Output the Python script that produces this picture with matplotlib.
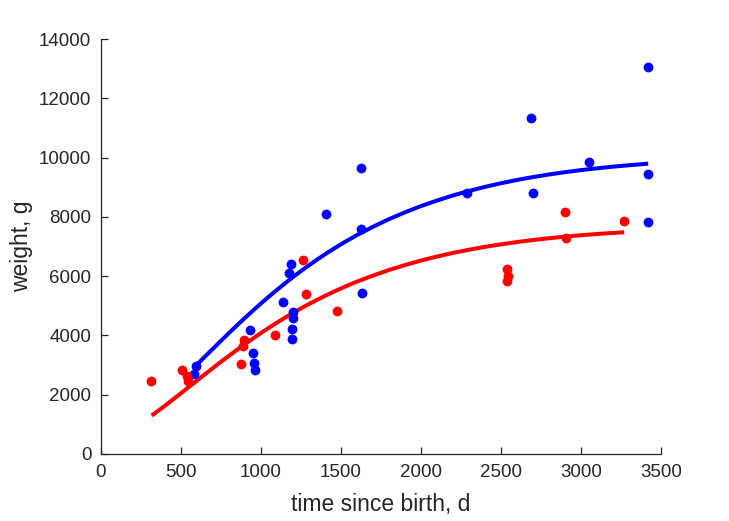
import matplotlib
matplotlib.use("Agg")
import matplotlib.pyplot as plt

plt.rcParams['font.family'] = ['Liberation Sans', 'DejaVu Sans']

# Observations (time since birth in days, weight in g)
blue_t = [592, 583, 931, 952, 958, 960, 1137, 1185, 1177, 1200, 1202, 1194, 1194,
          1623, 1408, 1625, 1633, 3421, 2689, 3052, 3421, 2289, 2698, 3421]
blue_w = [2952, 2695, 4183, 3392, 3054, 2830, 5140, 6425, 6121, 4792, 4576, 4227, 3889,
          9638, 8093, 7575, 5445, 13065, 11329, 9864, 9446, 8816, 8816, 7823]

red_t = [310, 504, 539, 546, 894, 886, 877, 1087, 1265, 1283, 1477,
         2900, 3271, 2908, 2535, 2542, 2535]
red_w = [2458, 2818, 2615, 2446, 3855, 3629, 3044, 4024, 6561, 5411, 4836,
         8161, 7846, 7282, 6256, 5997, 5851]

# Fitted growth curves
blue_fit_t = [590, 650, 700, 750, 800, 850, 900, 950, 1000, 1050, 1100, 1150, 1200,
              1250, 1300, 1350, 1400, 1450, 1500, 1550, 1600, 1700, 1800, 1900, 2000,
              2100, 2200, 2300, 2400, 2500, 2600, 2700, 2800, 2900, 3000, 3100, 3200,
              3300, 3420]
blue_fit_w = [2962, 3289, 3554, 3820, 4082, 4340, 4593, 4839, 5079, 5312, 5539, 5757, 5968,
              6172, 6368, 6556, 6736, 6909, 7076, 7233, 7385, 7665, 7923, 8153, 8364,
              8550, 8723, 8874, 9012, 9134, 9245, 9342, 9430, 9507, 9577, 9638, 9693,
              9741, 9795]

red_fit_t = [317, 400, 450, 500, 550, 600, 650, 700, 750, 800, 850, 900, 950, 1000,
             1050, 1100, 1150, 1200, 1250, 1300, 1350, 1400, 1450, 1500, 1550, 1600,
             1700, 1800, 1900, 2000, 2100, 2200, 2300, 2400, 2500, 2600, 2700, 2800,
             2900, 3000, 3100, 3270]
red_fit_w = [1295, 1630, 1840, 2052, 2265, 2479, 2692, 2903, 3111, 3315, 3514, 3709,
             3898, 4083, 4261, 4433, 4600, 4759, 4912, 5059, 5200, 5334, 5463, 5586,
             5703, 5815, 6018, 6207, 6374, 6527, 6662, 6784, 6891, 6988, 7073, 7150,
             7218, 7278, 7332, 7380, 7422, 7482]

x_ticks = [0, 500, 1000, 1500, 2000, 2500, 3000, 3500]
y_ticks = [0, 2000, 4000, 6000, 8000, 10000, 12000, 14000]

fig = plt.figure(figsize=(7.29, 5.21), dpi=100)
ax = fig.add_axes([101/729, 67/521, 560/729, 415/521])

ax.scatter(blue_t, blue_w, s=50, color=(0, 0, 1), linewidths=0, zorder=3)
ax.scatter(red_t, red_w, s=50, color=(1, 0, 0), linewidths=0, zorder=3)
ax.plot(blue_fit_t, blue_fit_w, color=(0, 0, 1), lw=2.9, zorder=2, solid_capstyle='butt')
ax.plot(red_fit_t, red_fit_w, color=(1, 0, 0), lw=2.9, zorder=2, solid_capstyle='butt')

ax.set_xlim(0, 3500)
ax.set_ylim(0, 14000)
ax.set_xticks(x_ticks)
ax.set_yticks(y_ticks)
ax.set_xticklabels([str(v) for v in x_ticks])
ax.set_yticklabels([str(v) for v in y_ticks])

dark = '#262626'
for side in ['top', 'right']:
    ax.spines[side].set_visible(False)
for side in ['left', 'bottom']:
    ax.spines[side].set_color(dark)
    ax.spines[side].set_linewidth(0.9)
ax.tick_params(direction='in', length=5, width=0.9, colors=dark, labelsize=13.5, pad=7)
ax.set_xlabel('time since birth, d', fontsize=16.5, color=dark, labelpad=9)
ax.set_ylabel('weight, g', fontsize=16.5, color=dark, labelpad=4)

fig.savefig('out.png', dpi=100)
